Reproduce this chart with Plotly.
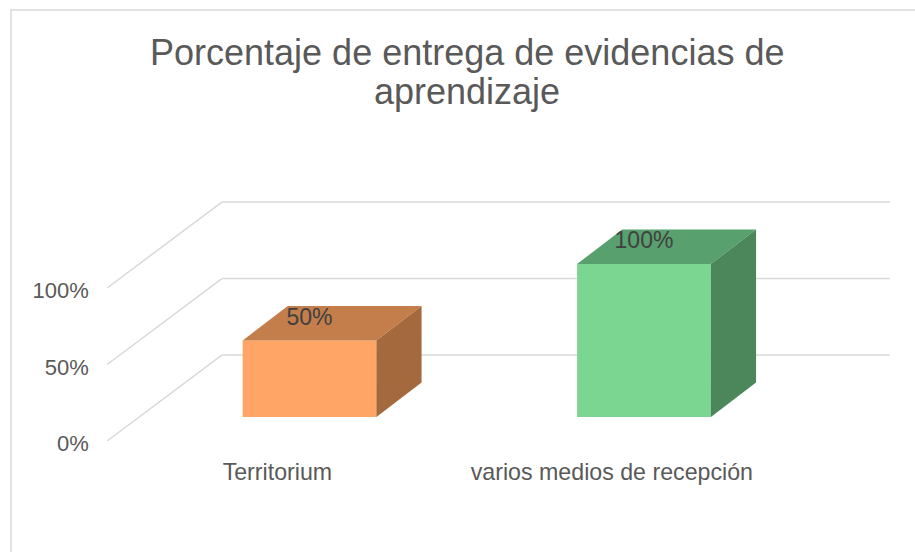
import plotly.graph_objects as go

# ---- data ----
categories = ["Territorium", "varios medios de recepción"]
values = [50, 100]
value_labels = ["50%", "100%"]
tick_values = [0, 50, 100]
tick_labels = ["0%", "50%", "100%"]
title_lines = ["Porcentaje de entrega de evidencias de", "aprendizaje"]

# ---- styling / projection constants (data units) ----
front_colors = ["#FFA566", "#7BD692"]
top_colors = ["#C47E4B", "#58A06E"]
side_colors = ["#A4693D", "#4B875A"]
BAR_W = 0.40
DEPTH_DX, DEPTH_DY = 0.135, 22.5          # bar depth offset
WALL_X0, WALL_X1, WALL_DY = -0.262, 1.735, 40.5   # back wall
FLOOR_X0, FLOOR_DY = -0.605, -15.7        # front floor edge
GRID = "#D9D9D9"
TXT = "#595959"
FONT = "Liberation Sans, Arial, sans-serif"

xpos = list(range(len(categories)))

fig = go.Figure()

# gridlines (back wall + side wall) as shapes below the bars
shapes = []
for v in tick_values:
    shapes.append(dict(type="line", xref="x", yref="y", layer="below",
                       x0=WALL_X0, x1=WALL_X1, y0=v + WALL_DY, y1=v + WALL_DY,
                       line=dict(color=GRID, width=1.5)))
    shapes.append(dict(type="line", xref="x", yref="y", layer="below",
                       x0=FLOOR_X0, x1=WALL_X0, y0=v + FLOOR_DY, y1=v + WALL_DY,
                       line=dict(color=GRID, width=1.5)))
# chart border
shapes.append(dict(type="rect", xref="paper", yref="paper",
                   x0=11 / 915, x1=1.02, y0=-0.02, y1=1 - 10 / 552,
                   line=dict(color="#D9D9D9", width=1.5), fillcolor="rgba(0,0,0,0)"))

# front faces
fig.add_trace(go.Bar(x=xpos, y=values, width=BAR_W, base=0,
                     marker=dict(color=front_colors, line=dict(width=0)),
                     hoverinfo="skip", showlegend=False))

# top and side faces
for i, v in enumerate(values):
    xl, xr = xpos[i] - BAR_W / 2, xpos[i] + BAR_W / 2
    fig.add_trace(go.Scatter(
        x=[xl, xr, xr + DEPTH_DX, xl + DEPTH_DX, xl],
        y=[v, v, v + DEPTH_DY, v + DEPTH_DY, v],
        fill="toself", fillcolor=top_colors[i], mode="lines",
        line=dict(width=0, color=top_colors[i]), hoverinfo="skip", showlegend=False))
    fig.add_trace(go.Scatter(
        x=[xr, xr + DEPTH_DX, xr + DEPTH_DX, xr, xr],
        y=[0, DEPTH_DY, v + DEPTH_DY, v, 0],
        fill="toself", fillcolor=side_colors[i], mode="lines",
        line=dict(width=0, color=side_colors[i]), hoverinfo="skip", showlegend=False))

# data labels
fig.add_trace(go.Scatter(
    x=xpos, y=[v + 14.2 for v in values], mode="text", text=value_labels,
    textposition="middle center", textfont=dict(size=23, color="#404040", family=FONT),
    hoverinfo="skip", showlegend=False))

# value-axis tick labels
fig.add_trace(go.Scatter(
    x=[FLOOR_X0 - 0.055] * len(tick_values), y=[v + FLOOR_DY - 3.0 for v in tick_values],
    mode="text", text=tick_labels, textposition="middle left",
    textfont=dict(size=22, color=TXT, family=FONT), hoverinfo="skip", showlegend=False))

# category labels
fig.add_trace(go.Scatter(
    x=[x - 0.096 for x in xpos], y=[FLOOR_DY - 21.8] * len(xpos),
    mode="text", text=categories, textposition="middle center",
    textfont=dict(size=23.2, color=TXT, family=FONT), hoverinfo="skip", showlegend=False))

fig.update_layout(
    width=915, height=552,
    margin=dict(l=0, r=0, t=0, b=0),
    paper_bgcolor="white", plot_bgcolor="white",
    xaxis=dict(range=[-0.9253, 1.8102], visible=False, fixedrange=True),
    yaxis=dict(range=[-88.24, 272.55], visible=False, fixedrange=True),
    shapes=shapes,
    annotations=[
        dict(text=title_lines[0], xref="paper", yref="paper",
             x=467 / 915, y=1 - 53 / 552, xanchor="center", yanchor="middle",
             showarrow=False, font=dict(size=36, color=TXT, family=FONT)),
        dict(text=title_lines[1], xref="paper", yref="paper",
             x=467 / 915, y=1 - 92 / 552, xanchor="center", yanchor="middle",
             showarrow=False, font=dict(size=36, color=TXT, family=FONT)),
    ],
    showlegend=False,
)

fig.write_html("out.html", config={"displayModeBar": False},
               post_script="document.body.style.margin='0px';")
